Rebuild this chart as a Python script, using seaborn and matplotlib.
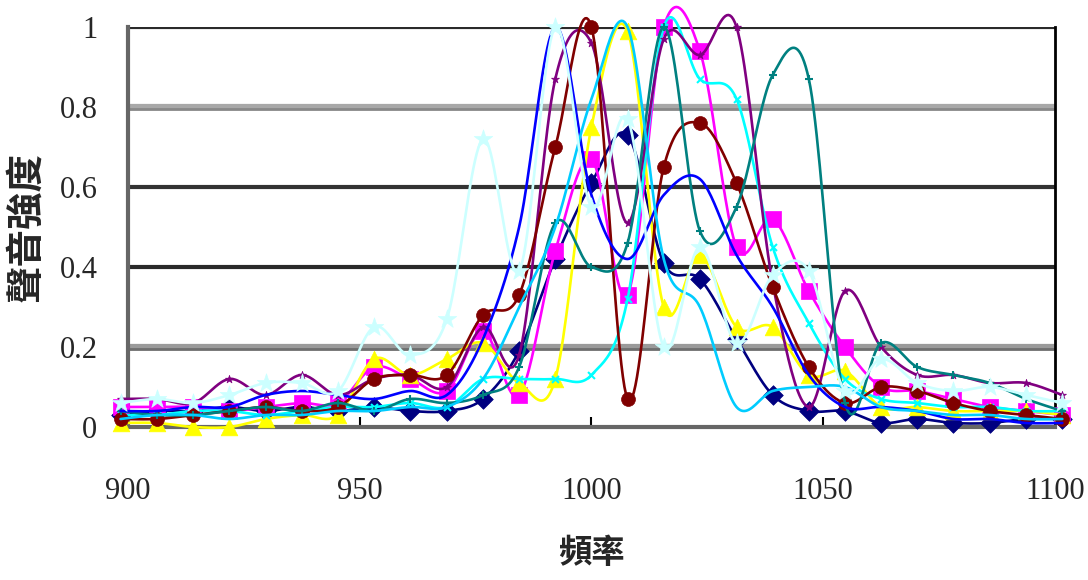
import numpy as np
import pandas as pd
import matplotlib
matplotlib.use("Agg")
import matplotlib.pyplot as plt
import seaborn as sns

# ---------------- data ----------------
freq = [898.4, 906.3, 914.1, 921.9, 929.7, 937.5, 945.3, 953.1, 960.9, 968.8,
        976.6, 984.4, 992.2, 1000.0, 1007.8, 1015.6, 1023.4, 1031.3, 1039.1,
        1046.9, 1054.7, 1062.5, 1070.3, 1078.1, 1085.9, 1093.8, 1101.6]

s_navy = [0.03, 0.04, 0.04, 0.05, 0.04, 0.05, 0.04, 0.05, 0.04, 0.04, 0.07, 0.19, 0.42, 0.61,
          0.73, 0.41, 0.37, 0.22, 0.08, 0.04, 0.04, 0.01, 0.02, 0.01, 0.01, 0.02, 0.02]
s_magenta = [0.05, 0.05, 0.05, 0.04, 0.05, 0.06, 0.06, 0.15, 0.12, 0.09, 0.24, 0.08, 0.44, 0.67,
             0.33, 1.00, 0.94, 0.45, 0.52, 0.34, 0.20, 0.10, 0.09, 0.07, 0.05, 0.04, 0.03]
s_yellow = [0.01, 0.01, 0.00, 0.00, 0.02, 0.03, 0.03, 0.17, 0.13, 0.17, 0.21, 0.11, 0.12, 0.75,
            0.99, 0.30, 0.43, 0.25, 0.25, 0.13, 0.14, 0.05, 0.05, 0.04, 0.04, 0.04, 0.03]
s_cyan = [0.03, 0.03, 0.04, 0.04, 0.03, 0.04, 0.05, 0.05, 0.06, 0.05, 0.12, 0.12, 0.12, 0.13,
          0.32, 1.00, 0.87, 0.82, 0.45, 0.26, 0.12, 0.07, 0.06, 0.05, 0.05, 0.04, 0.04]
s_purple = [0.07, 0.07, 0.06, 0.12, 0.08, 0.13, 0.08, 0.12, 0.13, 0.10, 0.25, 0.18, 0.87, 0.96,
            0.51, 0.97, 0.93, 1.00, 0.36, 0.05, 0.34, 0.20, 0.13, 0.13, 0.11, 0.11, 0.08]
s_darkred = [0.02, 0.02, 0.03, 0.04, 0.05, 0.04, 0.05, 0.12, 0.13, 0.13, 0.28, 0.33, 0.70, 1.00,
             0.07, 0.65, 0.76, 0.61, 0.35, 0.15, 0.06, 0.10, 0.09, 0.06, 0.04, 0.03, 0.02]
s_teal = [0.04, 0.03, 0.03, 0.04, 0.05, 0.04, 0.06, 0.04, 0.07, 0.06, 0.08, 0.15, 0.51, 0.40,
          0.46, 1.00, 0.49, 0.55, 0.88, 0.87, 0.06, 0.21, 0.15, 0.13, 0.11, 0.07, 0.04]
s_blue = [0.04, 0.04, 0.05, 0.05, 0.08, 0.09, 0.08, 0.07, 0.09, 0.08, 0.22, 0.50, 1.00, 0.58,
          0.42, 0.58, 0.62, 0.43, 0.30, 0.13, 0.05, 0.05, 0.04, 0.02, 0.02, 0.01, 0.01]
s_skyblue = [0.02, 0.03, 0.03, 0.02, 0.03, 0.03, 0.04, 0.04, 0.05, 0.05, 0.12, 0.30, 0.50, 0.82,
             1.00, 0.42, 0.30, 0.05, 0.09, 0.10, 0.10, 0.05, 0.04, 0.03, 0.03, 0.02, 0.02]
s_lightcyan = [0.06, 0.07, 0.06, 0.08, 0.11, 0.11, 0.09, 0.25, 0.18, 0.27, 0.72, 0.39, 1.00, 0.55,
               0.77, 0.20, 0.45, 0.21, 0.38, 0.39, 0.09, 0.17, 0.11, 0.09, 0.10, 0.08, 0.06]

series_values = [s_navy, s_magenta, s_yellow, s_cyan, s_purple, s_darkred,
                 s_teal, s_blue, s_skyblue, s_lightcyan]
series_colors = ["#000080", "#FF00FF", "#FFFF00", "#00FFFF", "#800080", "#800000",
                 "#008080", "#0000FF", "#00CCFF", "#CCFFFF"]
series_markers = ["D", "s", "^", "x", "*", "o", "+", None, None, "*"]
marker_sizes = [10, 11, 12, 5, 6, 10, 6, 0, 0, 14]

x_ticks = [900, 950, 1000, 1050, 1100]
y_ticks = [0, 0.2, 0.4, 0.6, 0.8, 1.0]
y_tick_labels = ["0", "0.2", "0.4", "0.6", "0.8", "1"]
x_title = "頻率"
y_title = "聲音強度"


def smooth(xv, yv, n=24):
    """Excel-like smoothed line (Catmull-Rom via cubic Bezier)."""
    P = np.column_stack([xv, yv]).astype(float)
    P = np.vstack([P[0], P, P[-1]])
    out = []
    t = np.linspace(0, 1, n)[:, None]
    for i in range(1, len(P) - 2):
        p0, p1, p2, p3 = P[i - 1], P[i], P[i + 1], P[i + 2]
        c1 = p1 + (p2 - p0) / 6.0
        c2 = p2 - (p3 - p1) / 6.0
        seg = ((1 - t) ** 3) * p1 + 3 * ((1 - t) ** 2) * t * c1 + 3 * (1 - t) * t ** 2 * c2 + t ** 3 * p2
        out.append(seg if i == 1 else seg[1:])
    out = np.vstack(out)
    return out[:, 0], out[:, 1]


sns.set_style("white")
plt.rcParams["font.family"] = ["Liberation Serif", "Noto Sans CJK TC", "DejaVu Sans"]

fig = plt.figure(figsize=(10.88, 5.80), dpi=100)
ax = fig.add_axes([0.1176, 0.2638, 0.8520, 0.6896])

ax.set_xlim(900, 1100)
ax.set_ylim(0, 1)

# gridlines (Excel-like)
grid_style = {1.0: ("#2a2a2a", 3.0), 0.8: ("#a8a8a8", 4.5), 0.6: ("#333333", 3.0),
              0.4: ("#2a2a2a", 3.0), 0.2: ("#9a9a9a", 4.5)}
for yv, (c, lw) in grid_style.items():
    ax.axhline(yv, color=c, lw=lw, zorder=0.5)
ax.axhline(0.8 - 0.006, color="#888888", lw=2.0, zorder=0.6)
ax.axhline(0.2 - 0.006, color="#6e6e6e", lw=2.0, zorder=0.6)

for i, (vals, col, mk, ms) in enumerate(zip(series_values, series_colors, series_markers, marker_sizes)):
    xs, ys = smooth(freq, vals)
    df = pd.DataFrame({"x": xs, "y": ys})
    sns.lineplot(data=df, x="x", y="y", color=col, lw=1.9, sort=False, estimator=None,
                 ax=ax, clip_on=False, zorder=2 + i * 0.1)
    if mk is not None:
        dm = pd.DataFrame({"x": freq, "y": vals})
        if mk in ("x", "+"):
            sns.scatterplot(data=dm, x="x", y="y", marker=mk, s=ms ** 2, color=col,
                            linewidth=1.5, ax=ax, clip_on=False, zorder=2.05 + i * 0.1)
        else:
            sns.scatterplot(data=dm, x="x", y="y", marker=mk, s=ms ** 2, color=col,
                            edgecolor=col, linewidth=0.5, ax=ax, clip_on=False,
                            zorder=2.05 + i * 0.1)

ax.set_xticks(x_ticks)
ax.set_xticklabels([str(v) for v in x_ticks])
ax.set_yticks(y_ticks)
ax.set_yticklabels(y_tick_labels)
ax.tick_params(axis="x", direction="in", length=7, width=1.5, color="black",
               pad=36, labelsize=22, top=False, bottom=True)
ax.tick_params(axis="y", direction="in", length=0, pad=22, labelsize=22, left=False)
for lab in ax.get_xticklabels() + ax.get_yticklabels():
    lab.set_family(["Liberation Serif"])

ax.set_xlabel(x_title, fontsize=24, family=["Noto Sans CJK TC"], fontweight="bold", labelpad=22)
ax.set_ylabel(y_title, fontsize=27, family=["Noto Sans CJK TC"], fontweight="bold", labelpad=10)

ax.spines["top"].set_visible(False)
ax.spines["bottom"].set_color("#666666")
ax.spines["bottom"].set_linewidth(3)
ax.spines["left"].set_color("#666666")
ax.spines["left"].set_linewidth(3)
ax.spines["right"].set_color("black")
ax.spines["right"].set_linewidth(2)
for sp in ax.spines.values():
    sp.set_zorder(1)

fig.savefig("out.png", dpi=100, facecolor="white")
